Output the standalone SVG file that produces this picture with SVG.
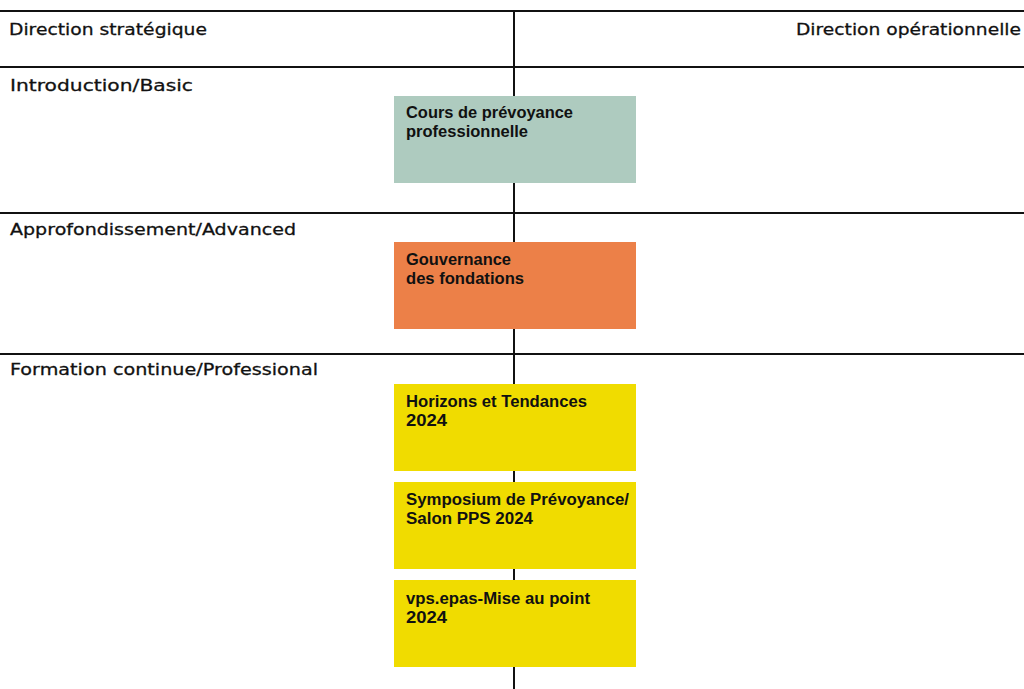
<svg xmlns="http://www.w3.org/2000/svg" width="1024" height="689" viewBox="0 0 1024 689">
<style>
.rule{stroke:#111;stroke-width:2;fill:none}
.hd{font-family:"DejaVu Sans","Liberation Sans",sans-serif;font-size:16.5px;fill:#111;stroke:#111;stroke-width:0.3}
.bt{font-family:"Liberation Sans",Arial,sans-serif;font-size:16px;font-weight:bold;fill:#111}
.green{fill:#aecbbf}
.orange{fill:#ec8048}
.yellow{fill:#f0dc00}
</style>
<rect width="1024" height="689" fill="#fff"/>
<g id="connectors">
<line class="rule" x1="514" y1="11" x2="514" y2="689"/>
<line class="rule" x1="0" y1="11" x2="1024" y2="11"/>
<line class="rule" x1="0" y1="67" x2="1024" y2="67"/>
<line class="rule" x1="0" y1="213" x2="1024" y2="213"/>
<line class="rule" x1="0" y1="354" x2="1024" y2="354"/>
</g>
<g id="labels">
<text class="hd" x="9" y="35" textLength="198" lengthAdjust="spacingAndGlyphs">Direction stratégique</text>
<text class="hd" x="796" y="35" textLength="225" lengthAdjust="spacingAndGlyphs">Direction opérationnelle</text>
<text class="hd" x="10" y="91" textLength="183" lengthAdjust="spacingAndGlyphs">Introduction/Basic</text>
<text class="hd" x="10" y="235" textLength="286" lengthAdjust="spacingAndGlyphs">Approfondissement/Advanced</text>
<text class="hd" x="10" y="374.5" textLength="308" lengthAdjust="spacingAndGlyphs">Formation continue/Professional</text>
</g>
<g id="n1"><rect class="green" x="394" y="96" width="242" height="87"/>
<text class="bt" x="406" y="118" textLength="167" lengthAdjust="spacingAndGlyphs">Cours de prévoyance</text><text class="bt" x="406" y="137" textLength="122" lengthAdjust="spacingAndGlyphs">professionnelle</text></g>
<g id="n2"><rect class="orange" x="394" y="242" width="242" height="87"/>
<text class="bt" x="406" y="265" textLength="105" lengthAdjust="spacingAndGlyphs">Gouvernance</text><text class="bt" x="406" y="284" textLength="118" lengthAdjust="spacingAndGlyphs">des fondations</text></g>
<g id="n3"><rect class="yellow" x="394" y="384" width="242" height="87"/>
<text class="bt" x="406" y="406.5" textLength="181" lengthAdjust="spacingAndGlyphs">Horizons et Tendances</text><text class="bt" x="406" y="426" textLength="41" lengthAdjust="spacingAndGlyphs">2024</text></g>
<g id="n4"><rect class="yellow" x="394" y="482" width="242" height="87"/>
<text class="bt" x="406" y="505" textLength="223" lengthAdjust="spacingAndGlyphs">Symposium de Prévoyance/</text><text class="bt" x="406" y="524" textLength="127" lengthAdjust="spacingAndGlyphs">Salon PPS 2024</text></g>
<g id="n5"><rect class="yellow" x="394" y="580" width="242" height="87"/>
<text class="bt" x="406" y="604" textLength="184" lengthAdjust="spacingAndGlyphs">vps.epas-Mise au point</text><text class="bt" x="406" y="623" textLength="41" lengthAdjust="spacingAndGlyphs">2024</text></g>
</svg>
